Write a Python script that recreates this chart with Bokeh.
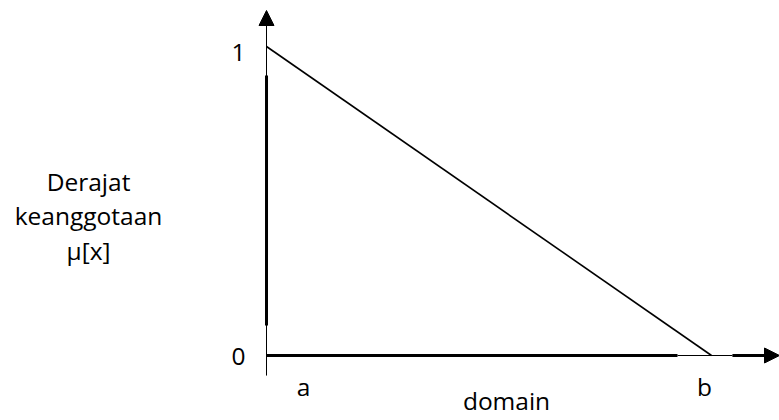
from bokeh.plotting import figure
from bokeh.models import Arrow, NormalHead, Range1d
from bokeh.core.properties import value
from bokeh.embed import file_html
from bokeh.resources import INLINE

# ---- data ----
domain_pts = [0.0, 1.0]          # a, b
domain_labels = ["a", "b"]
membership = [1.0, 0.0]          # mu[a], mu[b]
mu_ticks = [0.0, 1.0]
mu_tick_labels = ["0", "1"]
y_title = ["Derajat", "keanggotaan", "μ[x]"]
x_title = "domain"

FONT = value("Open Sans")
FS = "24.5px"

W, H = 779, 420
p = figure(width=W, height=H, output_backend="svg", toolbar_location=None,
           x_range=Range1d(-0.5978, 1.1528), y_range=Range1d(-0.2104, 1.1489),
           min_border=0)
p.axis.visible = False
p.grid.visible = False
p.outline_line_color = None
p.background_fill_color = "white"
p.border_fill_color = "white"

# vertical axis: thin full line with arrow, thicker middle part
p.add_layout(Arrow(x_start=0, y_start=-0.065, x_end=0, y_end=1.1165, line_width=1,
                   line_color="black",
                   end=NormalHead(size=15, fill_color="black", line_color="black", line_width=1)))
p.segment(x0=[0], y0=[0.097], x1=[0], y1=[0.906], line_width=3, line_color="black")

# horizontal axis: thick / thin / thick + arrow
p.segment(x0=[0, 0.9236], y0=[0, 0], x1=[0.9236, 1.047], y1=[0, 0],
          line_width=[3, 1.2], line_color="black")
p.add_layout(Arrow(x_start=1.047, y_start=0, x_end=1.1528, y_end=0, line_width=3,
                   line_color="black",
                   end=NormalHead(size=15, fill_color="black", line_color="black", line_width=1)))

# membership line
p.line(domain_pts, membership, line_width=1.6, line_color="black")

# tick labels
p.text(x=[domain_pts[0]] * 2, y=mu_ticks, text=mu_tick_labels, x_offset=-28,
       y_offset=[1, 6], text_align="center", text_baseline="middle",
       text_font=FONT, text_font_size=FS, text_color="black")
p.text(x=domain_pts, y=[0, 0], text=domain_labels, x_offset=[37, -7], y_offset=31,
       text_align="center", text_baseline="alphabetic",
       text_font=FONT, text_font_size=FS, text_color="black")
p.text(x=[(domain_pts[0] + domain_pts[1]) / 2], y=[0], text=[x_title], x_offset=17.5,
       y_offset=45, text_align="center", text_baseline="alphabetic",
       text_font=FONT, text_font_size=FS, text_color="black")

# y title (three lines)
p.text(x=[domain_pts[0]] * 3, y=[0.5] * 3, text=y_title, x_offset=-178,
       y_offset=[-19.5, 15, 49.5], text_align="center", text_baseline="alphabetic",
       text_font=FONT, text_font_size=FS, text_color="black")

open("out.html", "w").write(file_html(p, INLINE))
